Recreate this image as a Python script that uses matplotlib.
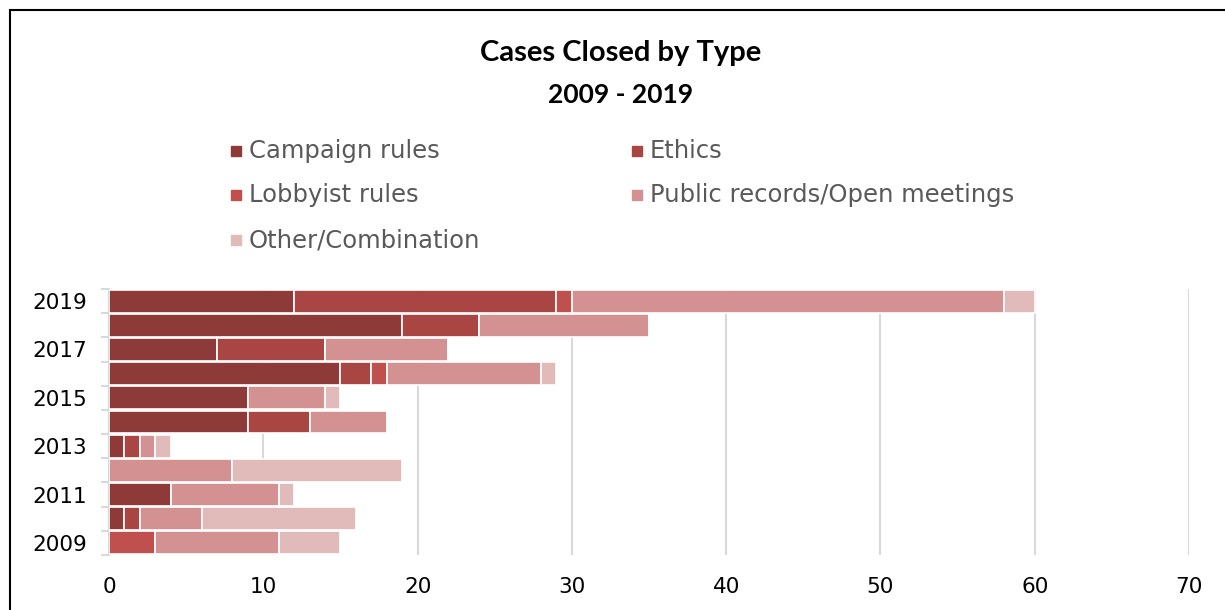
import numpy as np
import matplotlib.pyplot as plt
from matplotlib.patches import Rectangle

# Cases closed per year, split by type
years = [2009, 2010, 2011, 2012, 2013, 2014, 2015, 2016, 2017, 2018, 2019]
campaign = [0, 1, 4, 0, 1, 9, 9, 15, 7, 19, 12]
ethics = [0, 1, 0, 0, 1, 4, 0, 2, 7, 5, 17]
lobbyist = [3, 0, 0, 0, 0, 0, 0, 1, 0, 0, 1]
public = [8, 4, 7, 8, 1, 5, 5, 10, 8, 11, 28]
other = [4, 10, 1, 11, 1, 0, 1, 1, 0, 0, 2]

series = [
    ("Campaign rules", campaign, "#8E3A38"),
    ("Ethics", ethics, "#A94644"),
    ("Lobbyist rules", lobbyist, "#C0504D"),
    ("Public records/Open meetings", public, "#D39291"),
    ("Other/Combination", other, "#E1BABA"),
]

W, H = 1225, 610
fig = plt.figure(figsize=(W / 100, H / 100), dpi=100)
ax = fig.add_axes([109 / W, 1 - 555 / H, (1189 - 109) / W, (555 - 289) / H])

y = np.arange(len(years))
left = np.zeros(len(years))
for name, vals, color in series:
    vals = np.array(vals, dtype=float)
    ax.barh(y, vals, left=left, height=0.95, color=color,
            edgecolor="white", linewidth=1.2, zorder=3)
    left += vals

ax.set_xlim(0, 70)
ax.set_ylim(-0.5, len(years) - 0.5)
ax.set_xticks(range(0, 71, 10))
ax.xaxis.grid(True, color="#D9D9D9", linewidth=1.5, zorder=0)

# labels on every other year, tick marks between the rows
ax.set_yticks(y[::2])
ax.set_yticklabels([str(v) for v in years[::2]])
ax.set_yticks(np.arange(-0.5, len(years), 1), minor=True)
ax.tick_params(axis="y", which="major", length=0, pad=16, labelsize=15.5)
ax.tick_params(axis="y", which="minor", length=6, width=1.5, color="#D9D9D9")
ax.tick_params(axis="x", length=0, pad=16, labelsize=15.5)

for s in ["top", "right", "bottom"]:
    ax.spines[s].set_visible(False)
ax.spines["left"].set_color("#D9D9D9")
ax.spines["left"].set_linewidth(1.5)

# titles
title_font = ["Lato", "DejaVu Sans"]
fig.text(621 / W, 1 - 53 / H, "Cases Closed by Type", ha="center", va="center",
         fontsize=21, fontweight="bold", family=title_font)
fig.text(621 / W, 1 - 95 / H, "2009 - 2019", ha="center", va="center",
         fontsize=19, fontweight="bold", family=title_font)

# legend laid out in two columns
legend_pos = [(236, 151), (637, 151), (236, 195), (637, 195), (236, 240)]
for (name, vals, color), (lx, ly) in zip(series, legend_pos):
    fig.add_artist(Rectangle(((lx - 5) / W, 1 - (ly + 5) / H), 10 / W, 10 / H,
                             transform=fig.transFigure, color=color))
    fig.text((lx + 13) / W, 1 - ly / H, name, ha="left", va="center",
             fontsize=17.5, color="#595959")

# outer frame
fig.add_artist(Rectangle((10 / W, -0.05), 1.1, (H - 10) / H + 0.05,
                         transform=fig.transFigure, fill=False,
                         edgecolor="black", linewidth=1.5))

fig.savefig("out.png", dpi=100)
